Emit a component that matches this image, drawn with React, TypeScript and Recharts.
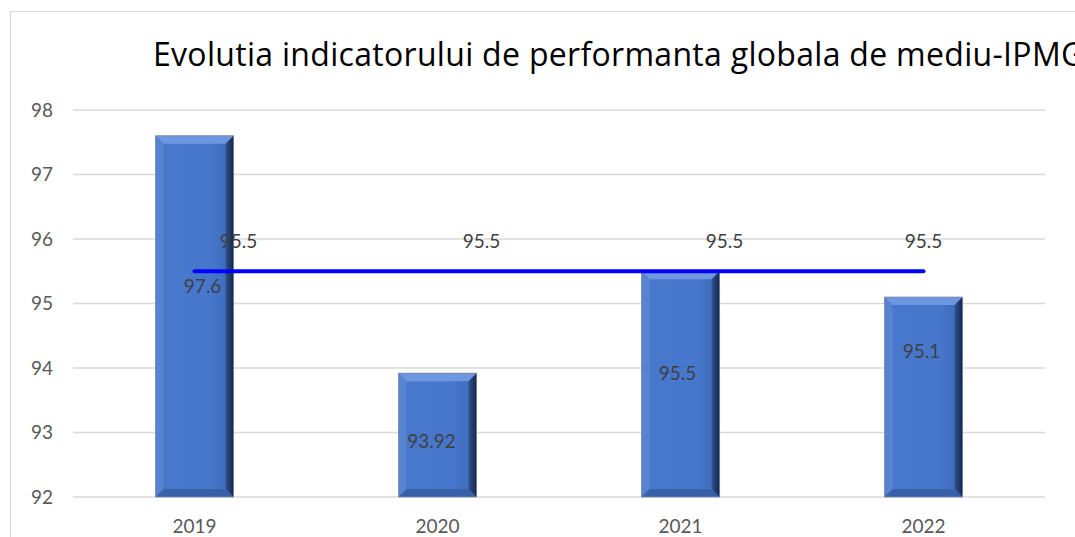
import { ComposedChart, Bar, Line, XAxis, YAxis, CartesianGrid, LabelList } from 'recharts'

const years = ['2019', '2020', '2021', '2022']
const ipmg = [97.6, 93.92, 95.5, 95.1]
const target = [95.5, 95.5, 95.5, 95.5]
const yTicks = [92, 93, 94, 95, 96, 97, 98]

const data = years.map((y, i) => ({ year: y, ipmg: ipmg[i], target: target[i] }))

// label nudges, as placed by hand in the original
const barLabelDx = [8, -6, -3, -2]
const barLabelDy = [-31, 5, -12, -47]

const font = 'Lato, "Open Sans", sans-serif'

function BevelBar(props: any) {
  const { x, y, width: w, height: h } = props
  if (!w || !h) return null
  const b = 8
  return (
    <g>
      <rect x={x} y={y} width={w} height={h} fill="url(#barFace)" />
      <polygon points={`${x},${y} ${x + w},${y} ${x + w - b},${y + b} ${x + b},${y + b}`} fill="#6f97df" />
      <polygon points={`${x},${y} ${x + b},${y + b} ${x + b},${y + h - b} ${x},${y + h}`} fill="#5783d1" />
      <polygon points={`${x + w},${y} ${x + w},${y + h} ${x + w - b},${y + h - b} ${x + w - b},${y + b}`} fill="url(#barEdge)" />
      <polygon points={`${x},${y + h} ${x + w},${y + h} ${x + w - b},${y + h - b} ${x + b},${y + h - b}`} fill="#3760a8" />
      <rect x={x} y={y} width={w} height={h} fill="none" stroke="#7a8aa8" strokeWidth={0.8} />
    </g>
  )
}

function BarLabel(props: any) {
  const { x, y, width, height, value, index } = props
  return (
    <text x={x + width / 2 + barLabelDx[index]} y={y + height / 2 + barLabelDy[index]} textAnchor="middle"
      dominantBaseline="central" fill="#404040" fontSize={19} fontFamily={font}>
      {value}
    </text>
  )
}

function LineLabel(props: any) {
  const { x, y, value, index } = props
  return (
    <text x={x + (index < 3 ? 44 : 0)} y={y - 31} textAnchor="middle" dominantBaseline="central"
      fill="#404040" fontSize={19} fontFamily={font}>
      {value}
    </text>
  )
}

export default function App() {
  return (
    <div style={{ position: 'fixed', left: 0, top: 0, width: 1075, height: 537, overflow: 'hidden', background: '#fff' }}>
      <div style={{ position: 'absolute', left: 10, top: 11, width: 1200, height: 600, borderLeft: '1px solid #d9d9d9', borderTop: '1px solid #d9d9d9' }} />
      <div style={{ position: 'absolute', left: 153, top: 32, fontFamily: '"Open Sans", sans-serif', fontSize: 32, letterSpacing: 0.3, color: '#000', whiteSpace: 'nowrap' }}>
        Evolutia indicatorului de performanta globala de mediu-IPMG
      </div>
      <div style={{ position: 'absolute', left: 0, top: 0 }}>
        <ComposedChart width={1075} height={537} data={data} margin={{ top: 110, right: 30, bottom: 10, left: 0 }} barCategoryGap="34%">
          <defs>
            <linearGradient id="barFace" x1="0" y1="0" x2="1" y2="0">
              <stop offset="0%" stopColor="#4878cc" />
              <stop offset="70%" stopColor="#4677cc" />
              <stop offset="100%" stopColor="#3d68b5" />
            </linearGradient>
            <linearGradient id="barEdge" x1="0" y1="0" x2="1" y2="0">
              <stop offset="0%" stopColor="#2f528f" />
              <stop offset="100%" stopColor="#14264a" />
            </linearGradient>
          </defs>
          <CartesianGrid stroke="#d9d9d9" strokeWidth={1.3} vertical={false} />
          <XAxis dataKey="year" height={30} axisLine={false} tickLine={false} tickMargin={17}
            tick={{ fill: '#595959', fontSize: 19, fontFamily: font }} />
          <YAxis domain={[92, 98]} ticks={yTicks} width={73} axisLine={false} tickLine={false} tickMargin={14}
            tick={{ fill: '#595959', fontSize: 19, fontFamily: font }} />
          <Bar dataKey="ipmg" shape={<BevelBar />} isAnimationActive={false}>
            <LabelList dataKey="ipmg" content={<BarLabel />} />
          </Bar>
          <Line dataKey="target" stroke="#0000ff" strokeWidth={4} strokeLinecap="round" dot={false} activeDot={false} isAnimationActive={false}>
            <LabelList dataKey="target" content={<LineLabel />} />
          </Line>
        </ComposedChart>
      </div>
    </div>
  )
}
